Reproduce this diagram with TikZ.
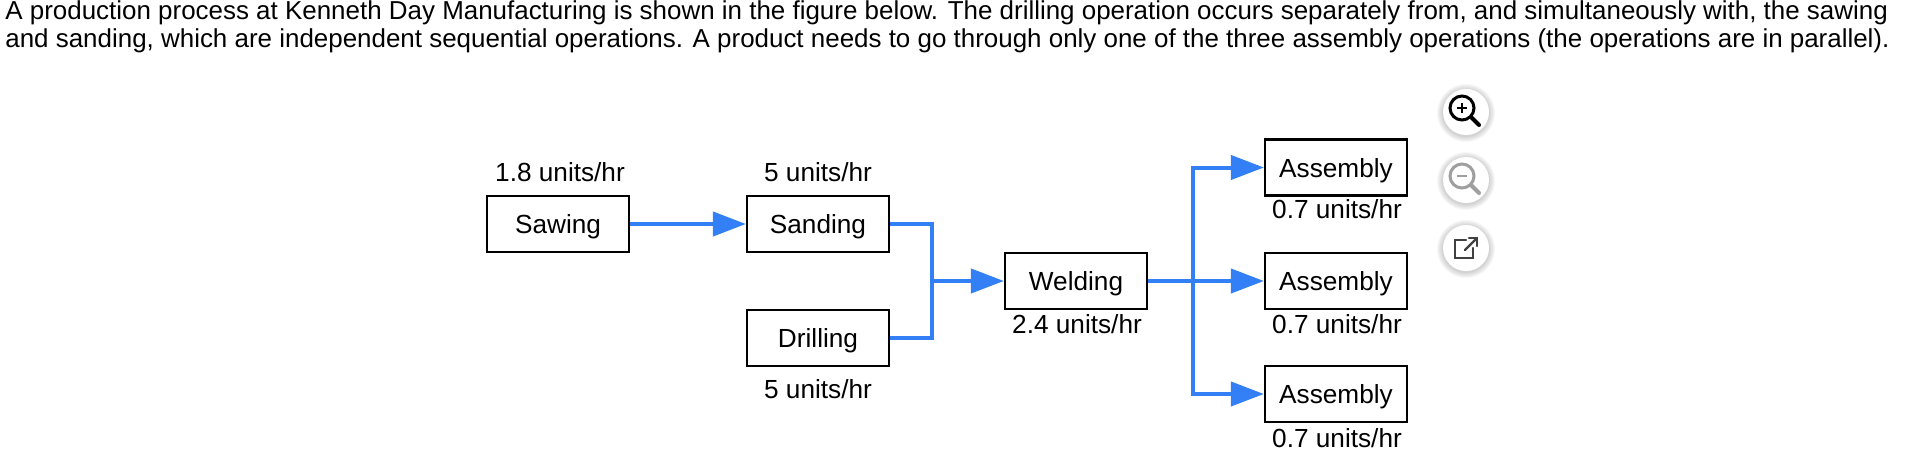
\documentclass[tikz,border=0pt]{standalone}
\usepackage{fontspec}
\setmainfont{Liberation Sans}
\usetikzlibrary{arrows.meta}
\definecolor{flowblue}{RGB}{51,127,245}
\tikzset{
  opbox/.style={draw=black,line width=1.1pt,minimum width=71pt,minimum height=28pt,inner sep=0pt,text height=12pt,text depth=2.5pt,font=\fontsize{13.1}{16}\selectfont},
  ratetext/.style={inner sep=0pt,text height=12pt,text depth=2.5pt,font=\fontsize{13.1}{16}\selectfont},
  titletext/.style={inner sep=0pt,anchor=base west,font=\fontsize{12.97}{15}\selectfont},
  flow/.style={draw=flowblue,line width=2pt},
  flowarrow/.style={flow,-{Triangle[length=16.5pt,width=12pt]}},
  zoombtn/.style={circle,fill=white,minimum size=23pt,inner sep=0pt},
  icon/.style={line width=1.2pt,line cap=round}
}
\begin{document}
\begin{tikzpicture}[x=0.5pt,y=-0.5pt]
        \useasboundingbox (0,0) rectangle (1930,466);

        % Heading
        \node[titletext] (line1) at (5,19) {A production process at Kenneth Day Manufacturing is shown in the figure below. The drilling operation occurs separately from, and simultaneously with, the sawing};
        \node[titletext] (line2) at (5,47) {and sanding, which are independent sequential operations. A product needs to go through only one of the three assembly operations (the operations are in parallel).};

        % Operations
        \node[opbox] (sawing) at (558,224) {Sawing};
        \node[opbox] (sanding) at (818,224) {Sanding};
        \node[opbox] (drilling) at (818,338) {Drilling};
        \node[opbox] (welding) at (1076,281) {Welding};
        \node[opbox] (asm1) at (1336,167.5) {Assembly};
        \node[opbox] (asm2) at (1336,281) {Assembly};
        \node[opbox] (asm3) at (1336,394) {Assembly};

        % Rates
        \node[ratetext] (sawrate) at (560,171.5) {1.8 units/hr};
        \node[ratetext] (sandrate) at (818,171.5) {5 units/hr};
        \node[ratetext] (drillrate) at (818,389) {5 units/hr};
        \node[ratetext] (weldrate) at (1077,324) {2.4 units/hr};
        \node[ratetext] (asmrate1) at (1337,209) {0.7 units/hr};
        \node[ratetext] (asmrate2) at (1337,324) {0.7 units/hr};
        \node[ratetext] (asmrate3) at (1337,438) {0.7 units/hr};

        % Junctions
        \coordinate (joinin) at (932,281);
        \coordinate (busout) at (1193,281);

        % Connectors
        \draw[flowarrow] (sawing.east) -- (sanding.west);
        \draw[flow] (sanding.east) -| (joinin);
        \draw[flow] (drilling.east) -| (joinin);
        \draw[flowarrow] (joinin) -- (welding.west);
        \draw[flowarrow] (welding.east) -- (asm2.west);
        \draw[flowarrow] (busout) |- (asm1.west);
        \draw[flowarrow] (busout) |- (asm3.west);

        % Viewer buttons
        \foreach \by in {112,180,248} {
          \foreach \br in {29,28,27,26,25,24} {
            \fill[black,opacity=0.03] (1466,\by+1) circle[radius=\br*0.5pt];
          }
          \node[zoombtn] (btn\by) at (1466,\by) {};
        }

        % Zoom in
        \draw[icon,line width=1.5pt] (1462,108) circle[radius=6pt];
        \draw[icon,line width=2pt] (1471,117) -- (1479,125);
        \draw[line width=0.9pt] (1457,108) -- (1467,108) (1462,103) -- (1462,113);

        % Zoom out
        \draw[icon,line width=1.5pt,gray!75] (1462,176) circle[radius=6pt];
        \draw[icon,line width=2pt,gray!75] (1471,185) -- (1479,193);
        \draw[line width=0.9pt,gray!75] (1457,176) -- (1467,176);

        % Open in new window
        \draw[icon,black!75] (1466,240) -- (1455,240) -- (1455,258) -- (1473,258) -- (1473,248);
        \draw[icon,black!75] (1465,250) -- (1477,238);
        \draw[icon,black!75] (1469,238) -- (1477,238) -- (1477,246);

\end{tikzpicture}
\end{document}
